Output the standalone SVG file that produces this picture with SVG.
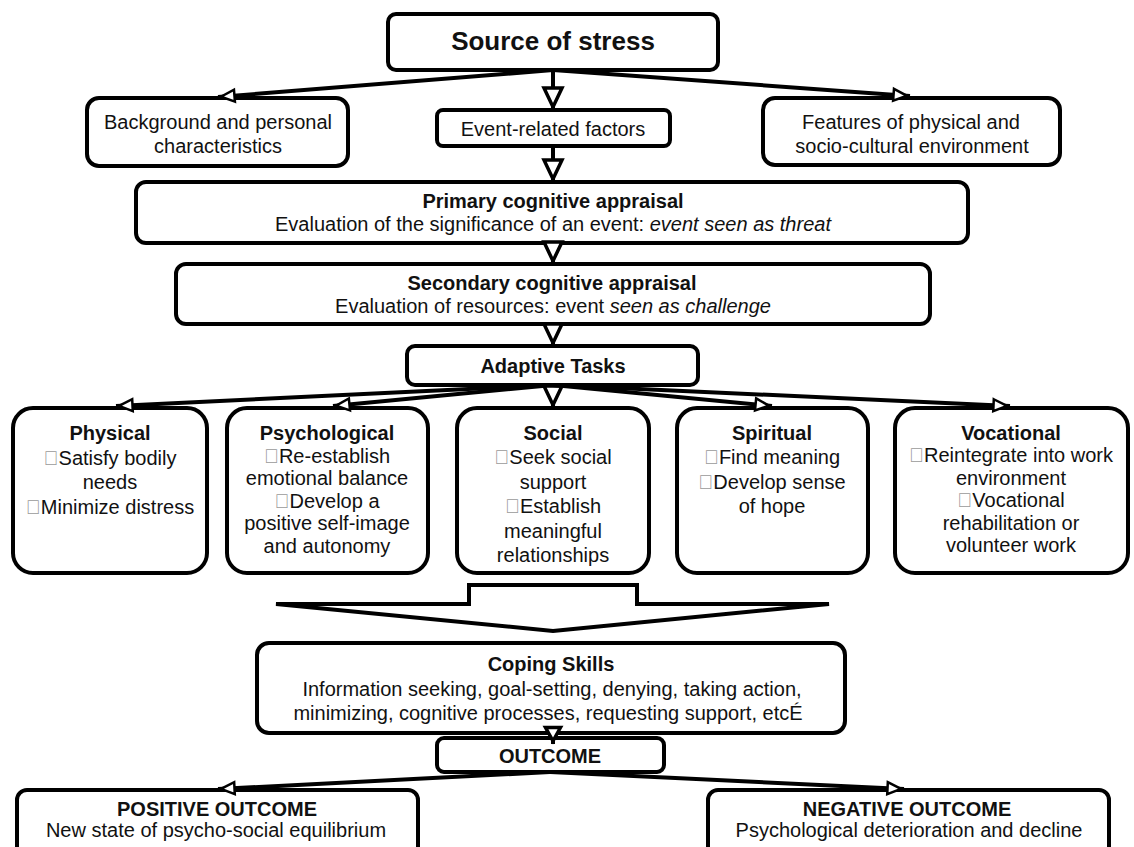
<svg xmlns="http://www.w3.org/2000/svg" width="1134" height="847" viewBox="0 0 1134 847">
  <style>
    .box { fill: #fff; stroke: #000; stroke-width: 4; }
    .t { font-family: "Liberation Sans", Arial, "DejaVu Sans", sans-serif; font-size: 20px; fill: #111; text-anchor: middle; }
    .b { font-weight: bold; }
    .i { font-style: italic; }
    .blt { fill: #9a9a9a; }
    .ln { fill: none; stroke: #000; stroke-width: 4; }
  </style>
  <defs>
    <marker id="head-lg" viewBox="0 0 28 24" refX="25" refY="12" markerWidth="28" markerHeight="24" markerUnits="userSpaceOnUse" orient="auto" overflow="visible">
      <path d="M3,3 L22,12 L3,21 z" fill="#fff" stroke="#000" stroke-width="3.5"/>
    </marker>
    <marker id="head-md" viewBox="0 0 22 20" refX="19" refY="10" markerWidth="22" markerHeight="20" markerUnits="userSpaceOnUse" orient="auto" overflow="visible">
      <path d="M2.5,2.5 L16,10 L2.5,17.5 z" fill="#fff" stroke="#000" stroke-width="3.5"/>
    </marker>
    <marker id="head-sm" viewBox="0 0 20 15" refX="18" refY="7.5" markerWidth="20" markerHeight="15" markerUnits="userSpaceOnUse" orient="auto" overflow="visible">
      <path d="M1.5,1.5 L15,7.5 L1.5,13.5 z" fill="#fff" stroke="#000" stroke-width="2.5"/>
    </marker>
  </defs>

  <rect width="1134" height="847" fill="#fff"/>

  <!-- top: stressor and its three factors -->
  <g id="source">
    <rect class="box" x="388" y="14" width="330" height="56" rx="8"/>
    <text class="t b" x="553" y="50" style="font-size:26px">Source of stress</text>
  </g>
  <g id="background">
    <rect class="box" x="87" y="98" width="261" height="68" rx="12"/>
    <text class="t" x="218" y="129">Background and personal</text>
    <text class="t" x="218" y="153">characteristics</text>
  </g>
  <g id="event">
    <rect class="box" x="437" y="110" width="233" height="36" rx="6"/>
    <text class="t" x="553" y="136">Event-related factors</text>
  </g>
  <g id="environment">
    <rect class="box" x="763" y="98" width="297" height="67" rx="12"/>
    <text class="t" x="911" y="129">Features of physical and</text>
    <text class="t" x="912" y="153">socio-cultural environment</text>
  </g>

  <!-- appraisal stages -->
  <g id="primary">
    <rect class="box" x="136" y="182" width="832" height="61" rx="10"/>
    <text class="t b" x="553" y="208">Primary cognitive appraisal</text>
    <text class="t" x="553" y="231">Evaluation of the significance of an event: <tspan class="i">event seen as threat</tspan></text>
  </g>
  <g id="secondary">
    <rect class="box" x="176" y="264" width="754" height="60" rx="10"/>
    <text class="t b" x="552" y="290">Secondary cognitive appraisal</text>
    <text class="t" x="553" y="313">Evaluation of resources: event <tspan class="i">seen as challenge</tspan></text>
  </g>
  <g id="adaptive">
    <rect class="box" x="407" y="346" width="291" height="39" rx="8"/>
    <text class="t b" x="553" y="373">Adaptive Tasks</text>
  </g>

  <!-- adaptive task areas -->
  <g id="physical">
    <rect class="box" x="13" y="408" width="194" height="165" rx="20"/>
    <text class="t" x="110" y="440"><tspan class="b">Physical</tspan><tspan x="110" dy="24.5"><tspan class="blt">&#xF0B7;</tspan>Satisfy bodily</tspan><tspan x="110" dy="24.5">needs</tspan><tspan x="110" dy="24.5"><tspan class="blt">&#xF0B7;</tspan>Minimize distress</tspan></text>
  </g>
  <g id="psychological">
    <rect class="box" x="227" y="408" width="201" height="165" rx="20"/>
    <text class="t" x="327" y="440"><tspan class="b">Psychological</tspan><tspan x="327" dy="22.6"><tspan class="blt">&#xF0B7;</tspan>Re-establish</tspan><tspan x="327" dy="22.6">emotional balance</tspan><tspan x="327" dy="22.6"><tspan class="blt">&#xF0B7;</tspan>Develop a</tspan><tspan x="327" dy="22.6">positive self-image</tspan><tspan x="327" dy="22.6">and autonomy</tspan></text>
  </g>
  <g id="social">
    <rect class="box" x="457" y="408" width="192" height="165" rx="20"/>
    <text class="t" x="553" y="440"><tspan class="b">Social</tspan><tspan x="553" dy="24.4"><tspan class="blt">&#xF0B7;</tspan>Seek social</tspan><tspan x="553" dy="24.4">support</tspan><tspan x="553" dy="24.4"><tspan class="blt">&#xF0B7;</tspan>Establish</tspan><tspan x="553" dy="24.4">meaningful</tspan><tspan x="553" dy="24.4">relationships</tspan></text>
  </g>
  <g id="spiritual">
    <rect class="box" x="677" y="408" width="191" height="165" rx="20"/>
    <text class="t" x="772" y="440"><tspan class="b">Spiritual</tspan><tspan x="772" dy="24.4"><tspan class="blt">&#xF0B7;</tspan>Find meaning</tspan><tspan x="772" dy="24.4"><tspan class="blt">&#xF0B7;</tspan>Develop sense</tspan><tspan x="772" dy="24.4">of hope</tspan></text>
  </g>
  <g id="vocational">
    <rect class="box" x="895" y="408" width="233" height="165" rx="20"/>
    <text class="t" x="1011" y="440"><tspan class="b">Vocational</tspan><tspan x="1011" dy="22.4"><tspan class="blt">&#xF0B7;</tspan>Reintegrate into work</tspan><tspan x="1011" dy="22.4">environment</tspan><tspan x="1011" dy="22.4"><tspan class="blt">&#xF0B7;</tspan>Vocational</tspan><tspan x="1011" dy="22.4">rehabilitation or</tspan><tspan x="1011" dy="22.4">volunteer work</tspan></text>
  </g>

  <!-- coping and outcomes -->
  <g id="coping">
    <rect class="box" x="257" y="643" width="588" height="90" rx="12"/>
    <text class="t b" x="551" y="671">Coping Skills</text>
    <text class="t" x="552" y="696">Information seeking, goal-setting, denying, taking action,</text>
    <text class="t" x="548" y="720">minimizing, cognitive processes, requesting support, etcÉ</text>
  </g>
  <g id="outcome">
    <rect class="box" x="437" y="738" width="227" height="34" rx="7"/>
    <text class="t b" x="550" y="763">OUTCOME</text>
  </g>
  <g id="positive">
    <rect class="box" x="17" y="790" width="401" height="80" rx="10"/>
    <text class="t b" x="217" y="816">POSITIVE OUTCOME</text>
    <text class="t" x="216" y="837">New state of psycho-social equilibrium</text>
  </g>
  <g id="negative">
    <rect class="box" x="708" y="790" width="401" height="80" rx="10"/>
    <text class="t b" x="907" y="816">NEGATIVE OUTCOME</text>
    <text class="t" x="909" y="837">Psychological deterioration and decline</text>
  </g>

  <!-- connectors -->
  <g id="connectors">
    <path class="ln" d="M553,70 L218,97" marker-end="url(#head-sm)"/>
    <path class="ln" d="M553,70 L910,96" marker-end="url(#head-sm)"/>
    <path class="ln" d="M553,70 L553,110" marker-end="url(#head-lg)"/>
    <path class="ln" d="M553,146 L553,182" marker-end="url(#head-lg)"/>
    <path class="ln" d="M553,241 L553,264" marker-end="url(#head-lg)"/>
    <path class="ln" d="M553,322 L553,346" marker-end="url(#head-lg)"/>

    <path class="ln" d="M553,385 L116,406" marker-end="url(#head-sm)"/>
    <path class="ln" d="M553,385 L333,406" marker-end="url(#head-sm)"/>
    <path class="ln" d="M553,383 L553,408" marker-end="url(#head-lg)"/>
    <path class="ln" d="M553,385 L772,406" marker-end="url(#head-sm)"/>
    <path class="ln" d="M553,385 L1010,406" marker-end="url(#head-sm)"/>

    <!-- broad arrow gathering the five task areas into coping -->
    <polygon points="469,585 637,585 637,604 829,604 553,631 276,604 469,604" fill="#fff" stroke="#000" stroke-width="4" stroke-linejoin="miter"/>

    <path class="ln" d="M553,731 L553,744" marker-end="url(#head-md)"/>
    <path class="ln" d="M550,772 L218,789" marker-end="url(#head-sm)"/>
    <path class="ln" d="M550,772 L904,789" marker-end="url(#head-sm)"/>
  </g>
</svg>
